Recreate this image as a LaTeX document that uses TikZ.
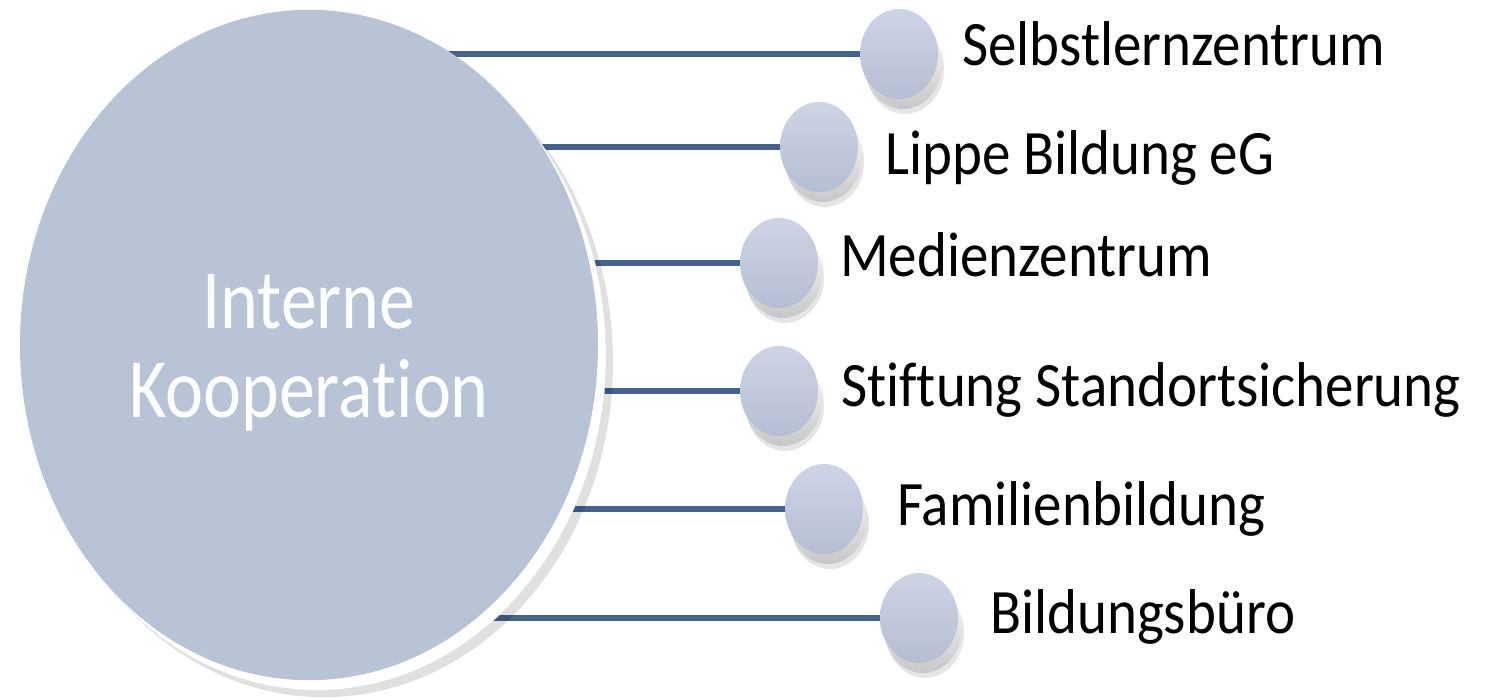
\documentclass[tikz,border=0pt]{standalone}
\usepackage{fontspec}
\setmainfont{Carlito}[Ligatures={NoCommon,NoContextual}]
\usetikzlibrary{shapes.geometric,backgrounds}

\definecolor{discface}{HTML}{B8C3D6}
\definecolor{knobtop}{HTML}{CED4E5}
\definecolor{knobbot}{HTML}{B6BED3}
\definecolor{linkblue}{HTML}{44628E}

\tikzset{
  hub/.style={ellipse, inner sep=0pt, minimum width=578pt, minimum height=573pt, yscale=1.17,
    preaction={fill=black, opacity=.12, transform canvas={shift={(15pt,-17pt)}}},
    preaction={fill=white, draw=black!12, transform canvas={shift={(8pt,-10pt)}}},
    fill=discface, text=white, align=center, font=\fontsize{72}{76}\selectfont},
  knob/.style={ellipse, inner sep=0pt, minimum width=78pt, minimum height=90pt,
    preaction={fill=black, opacity=.10, transform canvas={shift={(6pt,-15pt)}}},
    preaction={top color=white, bottom color=black!22, transform canvas={shift={(4pt,-10pt)}}},
    top color=knobtop, bottom color=knobbot},
  lbl/.style={anchor=base west, inner sep=0pt, yscale=1.11, font=\fontsize{57}{64}\selectfont},
  link/.style={draw=linkblue, line width=6pt}
}

\begin{document}
\begin{tikzpicture}[x=1pt, y=-1pt]
  \useasboundingbox (0,0) rectangle (1485,700);

  \node (h) [hub] at (309,345) {\rule{0pt}{60pt}Interne\\Kooperation};

  \node (k1) [knob] at (899,54) {};
  \node (k2) [knob] at (819,147) {};
  \node (k3) [knob] at (779,263) {};
  \node (k4) [knob] at (779,391) {};
  \node (k5) [knob] at (824,509) {};
  \node (k6) [knob] at (919,618) {};

  \node (t1) [lbl] at (962,66) {Selbstlernzentrum};
  \node (t2) [lbl] at (885,175) {Lippe Bildung eG};
  \node (t3) [lbl] at (840,277) {Medienzentrum};
  \node (t4) [lbl] at (841,406) {Stiftung Standortsicherung};
  \node (t5) [lbl] at (897,525) {Familienbildung};
  \node (t6) [lbl] at (990,633) {Bildungsbüro};

  \begin{pgfonlayer}{background}
    \draw [link] (k1.west) -- (k1.west -| h.center);
    \draw [link] (k2.west) -- (k2.west -| h.center);
    \draw [link] (k3.west) -- (k3.west -| h.center);
    \draw [link] (k4.west) -- (k4.west -| h.center);
    \draw [link] (k5.west) -- (k5.west -| h.center);
    \draw [link] (k6.west) -- (k6.west -| h.center);
  \end{pgfonlayer}
\end{tikzpicture}
\end{document}
